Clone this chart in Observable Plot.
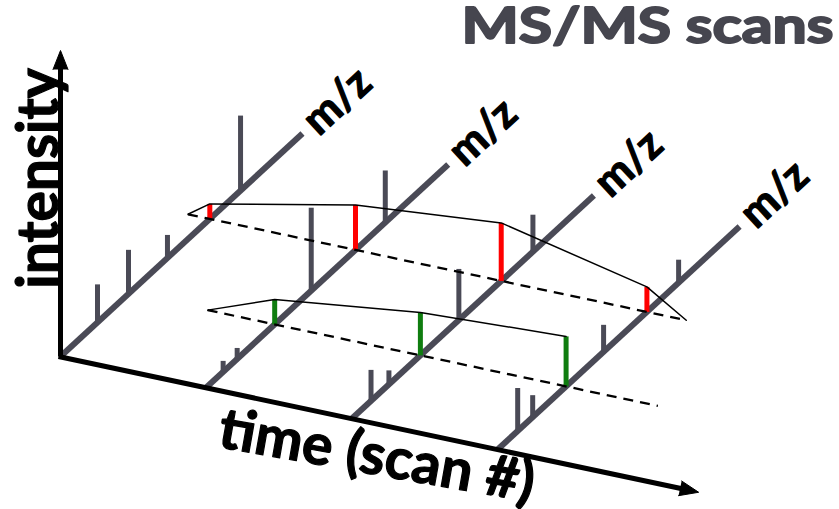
<!DOCTYPE html>
<html><head><meta charset="utf-8">
<script src="https://cdn.jsdelivr.net/npm/d3@7"></script>
<script src="https://cdn.jsdelivr.net/npm/@observablehq/plot@0.6"></script>
<style>body{margin:0;background:#fff}</style>
</head><body><div id="chart"></div>
<script>
// ---- data ----
const scans = [0, 1, 2, 3];
// gray (unlabelled) peaks: scan index, m/z position (fraction along axis), intensity
const grayScan = [0, 0, 0, 0, 1, 1, 1, 1, 2, 2, 2, 2, 3, 3, 3, 3];
const grayMz   = [0.153, 0.281, 0.442, 0.744, 0.070, 0.128, 0.434, 0.740, 0.079, 0.153, 0.442, 0.748, 0.083, 0.145, 0.438, 0.748];
const grayInt  = [38, 44, 23, 75, 11, 11, 83, 52, 31, 14, 51, 37, 43, 22, 27, 23];
// red feature (same m/z in every scan)
const redMz = 0.617;
const redScan = [0, 1, 2, 3];
const redInt = [15, 45, 58, 25];
const redSpan = [-0.15, 3.27];
// green feature
const greenMz = 0.283;
const greenScan = [1, 2, 3];
const greenInt = [25, 43, 50];
const greenSpan = [0.54, 3.63];
// axes extent
const intensityMax = 306;
const timeMax = 4.38;
// texts
const titleText = "MS/MS scans";
const yLabel = "intensity";
const xLabel = "time (scan #)";
const mzLabel = "m/z";

// ---- layout / projection ----
const W = 839, H = 509;
const gray = "#4a4a56", red = "#ff0000", green = "#0f7d0f", ink = "#000", titleGray = "#46464f";
const O = [60, 356], T = [145.7, 31], M = [242, -223];
const P = (s, m, i) => [O[0] + s * T[0] + m * M[0], O[1] + s * T[1] + m * M[1] - i];

const seg = (a, b) => ({a, b});
const mzAxes = scans.map(s => seg(P(s, 0, 0), P(s, 1, 0)));
const grayPeaks = grayScan.map((s, k) => seg(P(s, grayMz[k], 0), P(s, grayMz[k], grayInt[k])));
const redPeaks = redScan.map((s, k) => seg(P(s, redMz, 0), P(s, redMz, redInt[k])));
const greenPeaks = greenScan.map((s, k) => seg(P(s, greenMz, 0), P(s, greenMz, greenInt[k])));
const dashed = [seg(P(redSpan[0], redMz, 0), P(redSpan[1], redMz, 0)),
                seg(P(greenSpan[0], greenMz, 0), P(greenSpan[1], greenMz, 0))];
const redEnv = [P(redSpan[0], redMz, 0), ...redScan.map((s, k) => P(s, redMz, redInt[k])), P(redSpan[1], redMz, 0)];
const greenEnv = [P(greenSpan[0], greenMz, 0), ...greenScan.map((s, k) => P(s, greenMz, greenInt[k]))];

const origin = P(0, 0, 0), yTip = P(0, 0, intensityMax), xTip = P(timeMax, 0, 0);
function head(tip, from, len = 19, half = 7.5) {
  const dx = tip[0] - from[0], dy = tip[1] - from[1], L = Math.hypot(dx, dy);
  const u = [dx / L, dy / L], p = [-u[1], u[0]];
  const b = [tip[0] - u[0] * len, tip[1] - u[1] * len];
  return {pts: [[b[0] + p[0] * half, b[1] + p[1] * half], tip, [b[0] - p[0] * half, b[1] - p[1] * half]],
          base: [tip[0] - u[0] * len * 0.7, tip[1] - u[1] * len * 0.7]};
}
const yHead = head(yTip, origin), xHead = head(xTip, origin);
const axes = [seg(origin, yHead.base), seg([origin[0] - 2, origin[1]], xHead.base)];
const heads = [...yHead.pts.map(p => ({p, z: "y"})), ...xHead.pts.map(p => ({p, z: "x"}))];

const link = (data, o) => Plot.link(data, {x1: d => d.a[0], y1: d => d.a[1], x2: d => d.b[0], y2: d => d.b[1], ...o});
const font = "Lato, 'Open Sans', sans-serif";
const mzAngle = Math.atan2(M[1], M[0]) * 180 / Math.PI;
const bold = (fill, w) => ({fontWeight: "bold", fontFamily: font, fill, stroke: fill, strokeWidth: w, paintOrder: "stroke"});

const chart = Plot.plot({
  width: W, height: H, margin: 0,
  x: {domain: [0, W], range: [0, W]},
  y: {domain: [0, H], range: [0, H]},
  axis: null,
  marks: [
    link(mzAxes, {stroke: gray, strokeWidth: 6}),
    link(grayPeaks, {stroke: gray, strokeWidth: 5}),
    link(redPeaks, {stroke: red, strokeWidth: 5}),
    link(greenPeaks, {stroke: green, strokeWidth: 5}),
    link(dashed, {stroke: ink, strokeWidth: 2.3, strokeDasharray: "10,7"}),
    Plot.line(redEnv, {x: d => d[0], y: d => d[1], stroke: ink, strokeWidth: 1.5}),
    Plot.line(greenEnv, {x: d => d[0], y: d => d[1], stroke: ink, strokeWidth: 1.5}),
    link(axes, {stroke: ink, strokeWidth: 5}),
    Plot.line(heads, {x: d => d.p[0], y: d => d.p[1], z: "z", fill: ink, stroke: ink, strokeWidth: 1}),
    Plot.text(scans, {x: s => P(s, 1.03, 0)[0], y: s => P(s, 1.03, 0)[1], text: () => mzLabel,
      rotate: mzAngle, textAnchor: "start", lineAnchor: "middle", fontSize: 43, ...bold(ink, 1.2)}),
    Plot.text([yLabel], {x: () => origin[0] - 3, y: () => P(0, 0, 178)[1], rotate: -90, textAnchor: "middle",
      lineAnchor: "bottom", fontSize: 57, ...bold(ink, 1.2)}),
    Plot.text([xLabel], {x: () => P(1.07, 0, 0)[0], y: () => P(1.07, 0, 0)[1] + 57, rotate: 10, textAnchor: "start",
      lineAnchor: "bottom", fontSize: 57, ...bold(ink, 1.2)}),
    Plot.text([titleText], {frameAnchor: "top-right", dx: -6, dy: 7, lineAnchor: "top", fontSize: 50, ...bold(titleGray, 2)})
  ]
});
// widen the title to the reference's span
d3.select(chart).selectAll("text").filter(function () { return this.textContent === titleText; })
  .attr("textLength", 372).attr("lengthAdjust", "spacingAndGlyphs");
document.getElementById("chart").appendChild(chart);
</script>
</body></html>
